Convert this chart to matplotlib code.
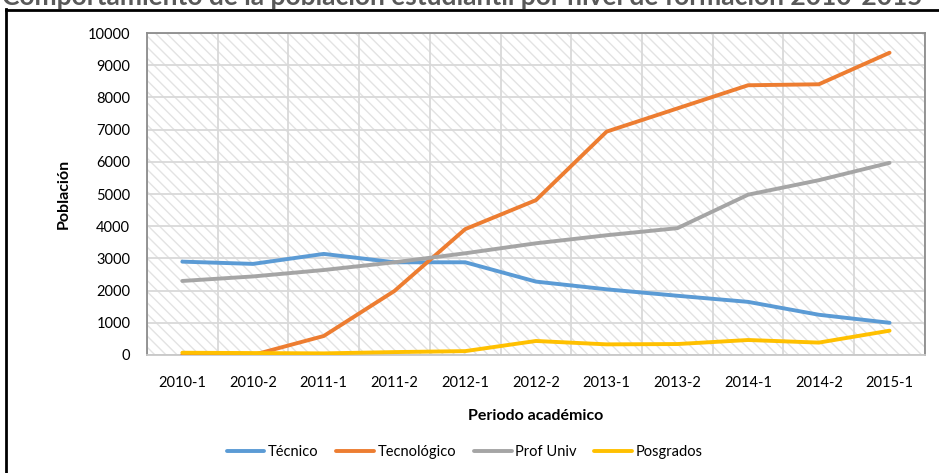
import matplotlib.pyplot as plt
from matplotlib.lines import Line2D
from matplotlib.patches import Rectangle
import numpy as np

periodos = ['2010-1', '2010-2', '2011-1', '2011-2', '2012-1', '2012-2',
            '2013-1', '2013-2', '2014-1', '2014-2', '2015-1']
tecnico = [2900, 2830, 3140, 2880, 2880, 2280, 2040, 1840, 1650, 1250, 1000]
tecnologico = [0, 0, 590, 1990, 3910, 4810, 6940, 7660, 8380, 8410, 9390]
prof_univ = [2300, 2440, 2640, 2880, 3160, 3470, 3720, 3940, 4980, 5430, 5970]
posgrados = [70, 60, 50, 90, 120, 435, 330, 340, 465, 385, 755]

series = [('Técnico', tecnico, '#5b9bd5'),
          ('Tecnológico', tecnologico, '#ed7d31'),
          ('Prof Univ', prof_univ, '#a5a5a5'),
          ('Posgrados', posgrados, '#ffc000')]

plt.rcParams['font.family'] = ['Lato', 'DejaVu Sans']

fig = plt.figure(figsize=(9.39, 4.73), dpi=100)
ax = fig.add_axes([0.1565, 0.2495, 0.8285, 0.6805])

# fondo rayado
ax.add_patch(Rectangle((0, 0), 1, 1, transform=ax.transAxes, facecolor='white',
                       edgecolor='#e3e3e3', hatch='\\\\\\', linewidth=0, zorder=0))

x = np.arange(len(periodos))
for nombre, valores, color in series:
    ax.plot(x, valores, color=color, linewidth=2.8, label=nombre, zorder=3,
            solid_capstyle='round')

ax.set_xlim(-0.5, len(periodos) - 0.5)
ax.set_ylim(0, 10000)
ax.set_yticks(np.arange(0, 10001, 1000))
ax.set_xticks(x)
ax.set_xticklabels(periodos)
ax.set_xticks(np.arange(-0.5, len(periodos), 0.5), minor=True)

ax.grid(True, which='minor', axis='x', color='#d9d9d9', linewidth=1.3, zorder=1)
ax.grid(True, which='major', axis='y', color='#d9d9d9', linewidth=1.3, zorder=1)
ax.set_axisbelow(True)
ax.tick_params(which='both', length=0, labelsize=10.5, colors='black')
ax.tick_params(axis='y', pad=12)
ax.tick_params(axis='x', pad=15)

for lado in ['top', 'right', 'left']:
    ax.spines[lado].set_color('#8c8c8c')
    ax.spines[lado].set_linewidth(1.3)
ax.spines['bottom'].set_color('#c8c8c8')
ax.spines['bottom'].set_linewidth(1.3)

ax.set_ylabel('Población', fontsize=11.5, fontweight='bold', labelpad=12)
ax.set_xlabel('Periodo académico', fontsize=11.5, fontweight='bold', labelpad=14)

fig.legend(*ax.get_legend_handles_labels(), loc='center', bbox_to_anchor=(0.495, 0.045),
           ncol=4, frameon=False, fontsize=10.5, handlelength=2.6, columnspacing=1.2,
           handletextpad=0.25)

# titulo recortado y borde del grafico
fig.text(0.492, 1 - 5 / 473, 'Comportamiento de la población estudiantil por nivel de formación 2010-2015',
         ha='center', va='baseline', fontsize=19, fontweight='bold', color='#595959')
fig.add_artist(Line2D([6 / 939, 6 / 939], [0, 1 - 9 / 473], color='black', linewidth=2))
fig.add_artist(Line2D([6 / 939, 1], [1 - 10 / 473, 1 - 10 / 473], color='black', linewidth=2))

fig.savefig('out.png', dpi=100)
